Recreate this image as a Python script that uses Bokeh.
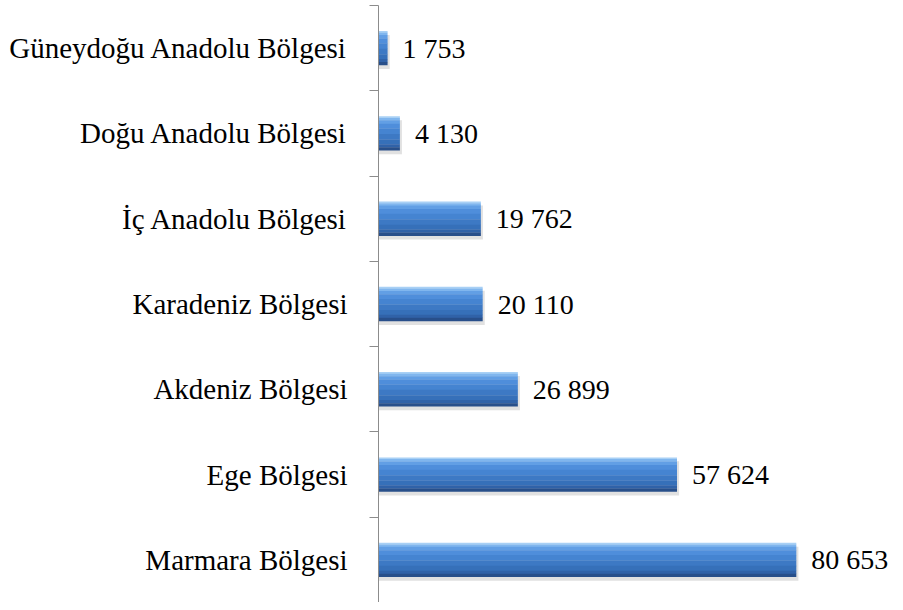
from bokeh.plotting import figure
from bokeh.models import Range1d, FixedTicker, ColumnDataSource
from bokeh.embed import file_html
from bokeh.resources import INLINE
from bokeh.core.properties import value

regions = ["Marmara Bölgesi", "Ege Bölgesi", "Akdeniz Bölgesi", "Karadeniz Bölgesi",
           "İç Anadolu Bölgesi", "Doğu Anadolu Bölgesi", "Güneydoğu Anadolu Bölgesi"]
counts = [80653, 57624, 26899, 20110, 19762, 4130, 1753]

n = len(regions)
BAR_H = 0.4
centers = [i + 0.5 for i in range(n)]
labels = [f"{v:,}".replace(",", " ") for v in counts]
src = ColumnDataSource(dict(y=centers, v=counts, lab=labels,
                            ys=[c - 0.045 for c in centers],
                            vs=[v + 400 for v in counts]))

p = figure(width=895, height=602, output_backend="svg", toolbar_location=None,
           x_range=Range1d(0, 99800), y_range=Range1d(0, n),
           min_border_left=378, min_border_right=0, min_border_top=5, min_border_bottom=0)
p.outline_line_color = None
p.xgrid.visible = False
p.ygrid.visible = False
p.xaxis.visible = False

# soft shadow
p.hbar(y="ys", right="vs", left=0, height=BAR_H, source=src, color="#bdbdbd", alpha=0.45, line_color=None)

# vertical gradient of the bar, built from slices (fraction from top, fraction to, colour)
slices = [(0.00, 0.05, "#a8d0f5"), (0.05, 0.12, "#80b6ee"), (0.12, 0.22, "#629fe5"),
          (0.22, 0.36, "#4f8edb"), (0.36, 0.52, "#4584d1"), (0.52, 0.68, "#3d79c4"),
          (0.68, 0.82, "#3670b9"), (0.82, 0.91, "#3062a8"), (0.91, 1.00, "#284f8a")]
for f0, f1, col in slices:
    off = BAR_H / 2 - (f0 + f1) / 2 * BAR_H
    s = ColumnDataSource(dict(y=[c + off for c in centers], v=counts))
    p.hbar(y="y", right="v", left=0, height=(f1 - f0) * BAR_H + 0.003, source=s,
           color=col, line_color=None)

p.text(x="v", y="y", text="lab", source=src, x_offset=15, text_baseline="middle",
       text_font=value("Liberation Serif"), text_font_size="28px", text_color="#000000")

ax = p.yaxis[0]
ax.ticker = FixedTicker(ticks=centers, minor_ticks=list(range(n + 1)))
ax.major_label_overrides = {c: r for c, r in zip(centers, regions)}
ax.major_tick_out = 0
ax.major_tick_in = 0
ax.minor_tick_out = 9
ax.minor_tick_in = 0
ax.minor_tick_line_color = "#8c8c8c"
ax.axis_line_color = "#8c8c8c"
ax.major_label_standoff = 22
ax.major_label_text_font = "Liberation Serif"
ax.major_label_text_font_size = "29px"
ax.major_label_text_color = "#000000"

open("out.html", "w").write(file_html(p, INLINE))
